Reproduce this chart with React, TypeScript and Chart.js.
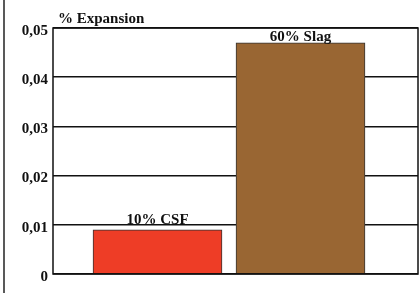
import React, { useEffect, useRef } from "react";
import { Chart, registerables } from "chart.js";

Chart.register(...registerables);

const categories = ["10% CSF", "60% Slag"];
const positions = [0, 1];
const expansion = [0.009, 0.047];
const barColors = ["#EE3D26", "#996633"];
const yTicks = [0, 0.01, 0.02, 0.03, 0.04, 0.05];
const yTitle = "% Expansion";

const FONT = "bold 15px 'Liberation Serif', 'Times New Roman', serif";

const overlay = {
  id: "overlay",
  afterDatasetsDraw(chart: any) {
    const { ctx, chartArea } = chart;
    ctx.save();
    // outer frame line on left
    ctx.strokeStyle = "#222";
    ctx.lineWidth = 1.5;
    ctx.beginPath();
    ctx.moveTo(4, 0);
    ctx.lineTo(4, chart.height);
    ctx.stroke();
    // chart area frame
    ctx.strokeStyle = "#111";
    ctx.lineWidth = 1.5;
    ctx.strokeRect(chartArea.left, chartArea.top, chartArea.right - chartArea.left, chartArea.bottom - chartArea.top);
    // title
    ctx.fillStyle = "#111";
    ctx.font = FONT;
    ctx.textAlign = "left";
    ctx.textBaseline = "alphabetic";
    ctx.fillText(yTitle, chartArea.left + 5, chartArea.top - 5);
    // bar labels
    const meta = chart.getDatasetMeta(0);
    ctx.textAlign = "center";
    meta.data.forEach((bar: any, i: number) => {
      const base = Math.max(bar.y - 6, chartArea.top + 13);
      ctx.fillText(categories[i], bar.x, base);
    });
    ctx.restore();
  },
};

export default function App() {
  const ref = useRef<HTMLCanvasElement>(null);
  useEffect(() => {
    document.body.style.margin = "0";
    const chart = new Chart(ref.current!, {
      type: "bar",
      data: {
        datasets: [
          {
            data: positions.map((x, i) => ({ x, y: expansion[i] })),
            backgroundColor: barColors,
            borderColor: "#333",
            borderWidth: 1,
            barThickness: 129,
          },
        ],
      },
      options: {
        animation: false,
        responsive: false,
        maintainAspectRatio: false,
        layout: { padding: { left: 0, top: 28, right: 2, bottom: 19 } },
        plugins: { legend: { display: false }, tooltip: { enabled: false }, title: { display: false } },
        scales: {
          x: {
            type: "linear",
            display: false,
            offset: false,
            min: -0.7308,
            max: 1.8217,
          },
          y: {
            min: 0,
            max: 0.05,
            afterFit(scale: any) {
              scale.width = 53;
            },
            afterBuildTicks(scale: any) {
              scale.ticks = yTicks.map((v) => ({ value: v }));
            },
            grid: { color: "#111", lineWidth: 1.5, drawTicks: false },
            border: { display: false },
            ticks: {
              padding: 5,
              labelOffset: 3,
              color: "#111",
              font: { family: "'Liberation Serif', 'Times New Roman', serif", size: 15, weight: "bold" },
              callback: (v: any) => (v === 0 ? "0" : Number(v).toFixed(2).replace(".", ",")),
            },
          },
        },
      },
      plugins: [overlay],
    } as any);
    return () => chart.destroy();
  }, []);
  return (
    <div style={{ position: "fixed", left: 0, top: 0, width: 420, height: 293, background: "#fff" }}>
      <canvas ref={ref} width={420} height={293} style={{ width: 420, height: 293 }} />
    </div>
  );
}
